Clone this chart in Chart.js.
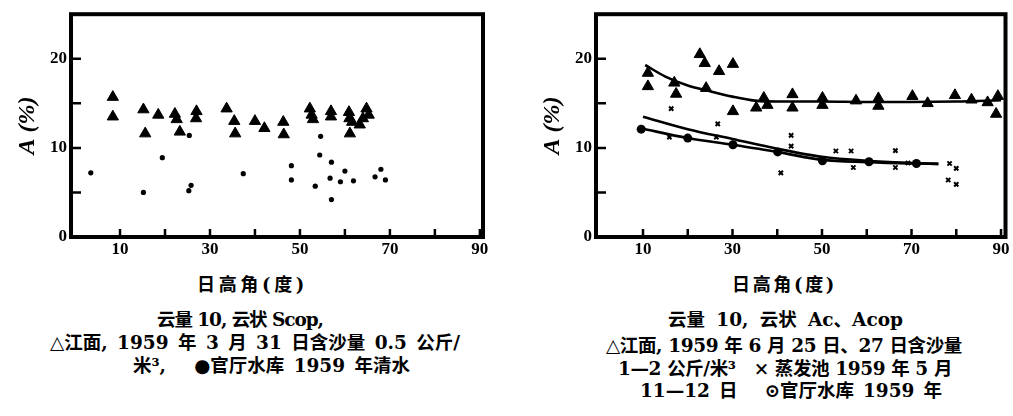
<!DOCTYPE html>
<html><head><meta charset="utf-8">
<script src="https://cdn.jsdelivr.net/npm/chart.js@4.4.0/dist/chart.umd.min.js"></script>
<style>
html,body{margin:0;padding:0;background:#fff;}
body{width:1013px;height:416px;position:relative;overflow:hidden;}
canvas{position:absolute;top:0;}
.cap{position:absolute;white-space:pre;font-family:"DejaVu Serif","Noto Sans CJK SC",serif;font-weight:bold;font-size:18.5px;line-height:20px;color:#000;}
.ttl{font-size:18px;}
</style></head><body>
<canvas id="c1" width="500" height="262" style="left:0"></canvas>
<canvas id="c2" width="488" height="262" style="left:525px"></canvas>

<div class="cap ttl" data-w="111" style="left:197px;top:275px">日高角(度)</div>
<div class="cap" data-w="166" style="left:157px;top:310px">云量 10, 云状 Scop,</div>
<div class="cap" data-w="410" style="left:50px;top:333px">△江面, 1959 年 3 月 31 日含沙量 0.5 公斤/</div>
<div class="cap" data-w="277" style="left:133px;top:356px">米³,   ●官厅水库 1959 年清水</div>

<div class="cap ttl" data-w="105" style="left:732px;top:275px">日高角(度)</div>
<div class="cap" data-w="235" style="left:668px;top:310px">云量 10, 云状 Ac、Acop</div>
<div class="cap" data-w="356" style="left:606px;top:336px">△江面, 1959 年 6 月 25 日、27 日含沙量</div>
<div class="cap" data-w="334" style="left:618px;top:359px">1—2 公斤/米³   × 蒸发池 1959 年 5 月</div>
<div class="cap" data-w="302" style="left:640px;top:381px">11—12 日   ⊙官厅水库 1959 年</div>

<script>
// ---- tick values ----
const xTicks = [10, 20, 30, 40, 50, 60, 70, 80, 90];
const xTickLabels = [10, 30, 50, 70, 90];
const yTicks = [0, 5, 10, 15, 20];
const yTickLabels = [0, 10, 20];
const yTitle = 'A (%)';

// ---- left panel: 江面 1959-03-31 (triangles) ----
const riverMarX = [8.4, 8.4, 15.2, 15.6, 18.5, 22.2, 22.6, 23.3, 27.0, 26.9, 33.7, 35.4, 35.6, 40.0, 42.1, 46.3, 46.4, 52.2, 52.6, 52.9, 56.9, 56.9, 60.9, 61.0, 61.1, 61.6, 63.3, 64.0, 64.8, 65.3];
const riverMarY = [15.7, 13.5, 14.3, 11.6, 13.7, 13.8, 13.2, 11.8, 14.1, 13.3, 14.4, 13.0, 11.6, 13.0, 12.2, 12.9, 11.5, 14.4, 13.7, 13.2, 14.1, 13.5, 14.0, 13.3, 11.6, 12.9, 12.6, 13.3, 14.4, 13.7];
// ---- left panel: 官厅水库 1959 清水 (dots) ----
const resvClearX = [3.5, 15.2, 19.4, 25.4, 25.8, 25.3, 37.4, 48.1, 48.1, 53.4, 54.6, 54.4, 57.0, 56.7, 57.0, 59.0, 60.0, 61.9, 66.7, 68.0, 69.0];
const resvClearY = [7.2, 5.0, 8.9, 11.4, 5.8, 5.2, 7.1, 8.0, 6.4, 5.7, 11.3, 9.2, 8.4, 6.6, 4.2, 6.2, 7.4, 6.3, 6.75, 7.6, 6.4];

// ---- right panel: 江面 1959-06-25/27 (triangles) ----
const riverJunX = [11.1, 11.1, 17.0, 17.4, 22.7, 23.8, 24.1, 27.0, 30.1, 30.1, 35.3, 37.0, 37.8, 43.4, 43.4, 50.1, 50.1, 57.6, 62.6, 62.6, 70.2, 73.6, 79.7, 83.4, 87.0, 89.3, 88.9];
const riverJunY = [18.4, 16.9, 17.3, 16.05, 20.5, 19.5, 16.7, 18.6, 19.4, 14.1, 14.5, 15.6, 14.8, 16.0, 14.5, 15.6, 14.8, 15.3, 15.55, 14.7, 15.8, 15.0, 15.9, 15.4, 15.1, 15.8, 13.8];
// ---- right panel: 蒸发池 1959-05-11/12 (crosses) ----
const evapX = [16.3, 15.9, 26.7, 26.4, 40.8, 43.1, 43.1, 53.1, 56.5, 57.0, 66.4, 66.4, 69.2, 78.5, 80.0, 78.2, 80.0];
const evapY = [14.4, 11.2, 12.7, 11.2, 7.2, 11.4, 10.2, 9.65, 9.65, 7.8, 9.7, 7.8, 8.3, 8.25, 7.7, 6.4, 5.9];
// ---- right panel: 官厅水库 1959 (circles) ----
const resvX = [9.6, 20.0, 30.1, 40.1, 50.1, 60.5, 71.1];
const resvY = [12.1, 11.1, 10.35, 9.55, 8.55, 8.45, 8.25];

// ---- right panel fitted curves ----
const riverCurveX = [10.5, 15, 20, 25, 30, 35, 40, 50, 60, 70, 80, 90];
const riverCurveY = [19.3, 18.0, 17.0, 16.35, 15.75, 15.3, 15.2, 15.2, 15.15, 15.15, 15.2, 15.35];
const evapCurveX = [10, 20, 30, 40, 50, 60, 70, 76];
const evapCurveY = [13.5, 12.1, 11.0, 9.9, 9.0, 8.55, 8.3, 8.2];
const resvCurveX = [9.5, 20, 30, 40, 50, 60, 70, 76];
const resvCurveY = [12.2, 11.1, 10.35, 9.55, 8.65, 8.4, 8.25, 8.2];

const pts = (xs, ys) => xs.map((x, i) => ({ x, y: ys[i] }));

const tickFont = { family: '"Liberation Serif", serif', size: 17, weight: 'bold' };

const framePlugin = {
  id: 'frame',
  afterDraw(chart) {
    const { ctx, chartArea: a, scales: { x, y } } = chart;
    ctx.save();
    ctx.strokeStyle = '#000';
    ctx.lineWidth = 2.5;
    ctx.beginPath();
    x.ticks.forEach(t => {
      const px = x.getPixelForValue(t.value);
      ctx.moveTo(px, a.bottom); ctx.lineTo(px, a.bottom - 8);
    });
    y.ticks.forEach(t => {
      if (t.value === 0) return;
      const py = y.getPixelForValue(t.value);
      ctx.moveTo(a.left, py); ctx.lineTo(a.left + 10, py);
    });
    ctx.stroke();
    ctx.lineWidth = 4;
    ctx.strokeRect(a.left, a.top, a.right - a.left, a.bottom - a.top);
    ctx.restore();
  }
};

function scatterSet(data, style, radius, bw) {
  return { data, showLine: false, pointStyle: style, pointRadius: radius,
    pointBackgroundColor: '#000', pointBorderColor: '#000', pointBorderWidth: bw };
}
function curveSet(data) {
  return { data, showLine: true, pointRadius: 0, borderColor: '#000', borderWidth: 2.6,
    cubicInterpolationMode: 'monotone', fill: false };
}

function makeChart(id, xMin, xMax, padRight, datasets) {
  return new Chart(document.getElementById(id), {
    type: 'scatter',
    data: { datasets },
    options: {
      responsive: false, animation: false, devicePixelRatio: 1,
      layout: { padding: { top: 10, right: padRight, left: 0, bottom: 0 } },
      plugins: { legend: { display: false }, tooltip: { enabled: false } },
      scales: {
        x: {
          type: 'linear', min: xMin, max: xMax,
          grid: { display: false, drawTicks: false }, border: { display: false },
          afterBuildTicks: s => { s.ticks = xTicks.map(v => ({ value: v })); },
          afterFit: s => { s.height = 25; },
          ticks: { padding: 2, font: tickFont, color: '#000', autoSkip: false, maxRotation: 0,
            callback: v => xTickLabels.includes(v) ? String(v) : '' }
        },
        y: {
          type: 'linear', min: 0, max: 25,
          grid: { display: false, drawTicks: false }, border: { display: false },
          afterBuildTicks: s => { s.ticks = yTicks.map(v => ({ value: v })); },
          afterFit: s => { s.width = 71; },
          ticks: { padding: 4, font: tickFont, color: '#000', autoSkip: false,
            callback: v => yTickLabels.includes(v) ? String(v) : '' },
          title: { display: true, text: yTitle, color: '#000',
            font: { family: '"Liberation Serif", serif', size: 24, style: 'italic', weight: 'bold' },
            padding: { top: 13, bottom: 0 } }
        }
      }
    },
    plugins: [framePlugin]
  });
}

makeChart('c1', -0.9, 90.7, 17, [
  scatterSet(pts(riverMarX, riverMarY), 'triangle', 6.5, 1),
  scatterSet(pts(resvClearX, resvClearY), 'circle', 2.6, 0)
]);

makeChart('c2', -0.5, 91.0, 5, [
  curveSet(pts(riverCurveX, riverCurveY)),
  curveSet(pts(evapCurveX, evapCurveY)),
  curveSet(pts(resvCurveX, resvCurveY)),
  scatterSet(pts(riverJunX, riverJunY), 'triangle', 6.5, 1),
  scatterSet(pts(resvX, resvY), 'circle', 4.5, 0),
  scatterSet(pts(evapX, evapY), 'crossRot', 3, 2)
]);

// fit caption widths to the reference line lengths (extra room goes to the spaces)
document.querySelectorAll('.cap').forEach(el => {
  const target = +el.dataset.w;
  const chars = [...el.textContent];
  const nSp = chars.filter(c => c === ' ').length;
  const w = el.getBoundingClientRect().width;
  const extra = target - w;
  if (nSp > 0 && extra > 0) {
    el.style.wordSpacing = (extra / nSp).toFixed(2) + 'px';
  } else {
    el.style.letterSpacing = (extra / chars.length).toFixed(2) + 'px';
  }
});
</script>
</body></html>
